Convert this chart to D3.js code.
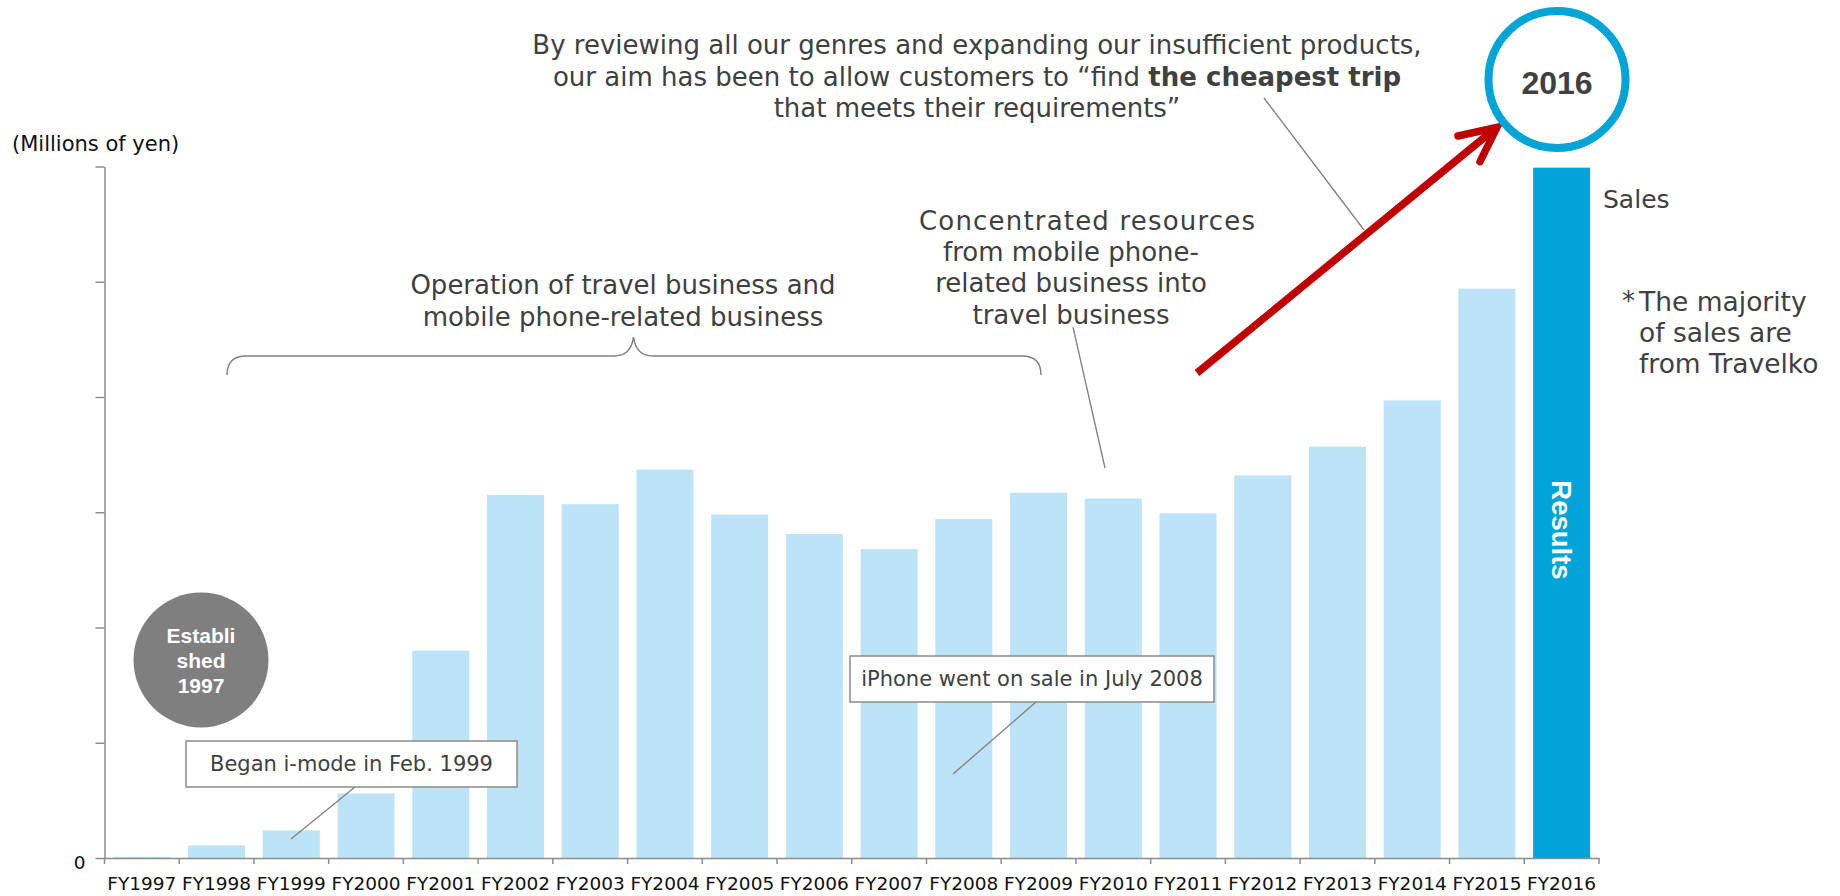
<!DOCTYPE html>
<html>
<head>
<meta charset="utf-8">
<script src="https://cdn.jsdelivr.net/npm/d3@7"></script>
<style>
  html, body { margin: 0; padding: 0; background: #fff; }
  svg { display: block; }
  text { font-family: "DejaVu Sans", Verdana, sans-serif; }
  text.badge { font-family: "Liberation Sans", Arial, sans-serif; font-weight: bold; }
</style>
</head>
<body>
<svg id="chart" width="1840" height="896"></svg>
<script>
// Fiscal years on the category axis
const categories = ["FY1997", "FY1998", "FY1999", "FY2000", "FY2001", "FY2002", "FY2003",
  "FY2004", "FY2005", "FY2006", "FY2007", "FY2008", "FY2009", "FY2010", "FY2011",
  "FY2012", "FY2013", "FY2014", "FY2015", "FY2016"];

// Sales (millions of yen, unlabelled scale)
const sales = [10, 110, 240, 560, 1800, 3150, 3070, 3370, 2980, 2810, 2680, 2940,
  3170, 3120, 2990, 3320, 3570, 3970, 4940, 5990];

// Value ticks; only the zero is labelled
const yTicks = [0, 1000, 2000, 3000, 4000, 5000, 6000];
const yTickLabels = ["0", "", "", "", "", "", ""];

// Year shown as the current result
const resultYear = "FY2016";

// Annotation texts
const headlineLines = [
  [{ t: "By reviewing all our genres and expanding our insufficient products,", b: false }],
  [{ t: "our aim has been to allow customers to \u201cfind ", b: false }, { t: "the cheapest trip", b: true }],
  [{ t: "that meets their requirements\u201d", b: false }]
];
const operationLines = ["Operation of travel business and", "mobile phone-related business"];
const concentratedLines = ["Concentrated resources", "from mobile phone-", "related business into", "travel business"];
const noteLines = ["The majority", "of sales are", "from Travelko"];
const establishedLines = ["Establi", "shed", "1997"];

const svg = d3.select("#chart");
const W = 1840, H = 896;
svg.append("rect").attr("width", W).attr("height", H).attr("fill", "#fff");

const x = d3.scaleBand()
  .domain(categories)
  .range([104.5, 1599])
  .paddingInner(0.237)
  .paddingOuter(0.1185);

const y = d3.scaleLinear().domain([0, 6000]).range([858, 166.5]);

const axisColor = "#8c8c8c";
const textDark = "#404040";

// Bars
svg.append("g").selectAll("rect")
  .data(categories)
  .join("rect")
  .attr("x", d => x(d))
  .attr("width", x.bandwidth())
  .attr("y", (d, i) => y(sales[i]))
  .attr("height", (d, i) => y(0) - y(sales[i]))
  .attr("fill", d => d === resultYear ? "#00a4d6" : "#bde3f7");

// Y axis
const yAxis = svg.append("g")
  .attr("transform", `translate(${x.range()[0]},0)`)
  .call(d3.axisLeft(y).tickValues(yTicks).tickSize(9).tickSizeOuter(0).tickPadding(10)
    .tickFormat((d, i) => yTickLabels[i]));
yAxis.selectAll("path, line").attr("stroke", axisColor).attr("stroke-width", 1.5);
yAxis.selectAll("text").attr("font-size", 18.5).attr("fill", "#111").attr("dy", "0.55em");

// X axis: labels at band centres, tick marks at band boundaries
const xAxis = svg.append("g")
  .attr("transform", `translate(0,${y(0)})`)
  .call(d3.axisBottom(x).tickSize(0).tickSizeOuter(0).tickPadding(19));
xAxis.select(".domain").attr("stroke", axisColor).attr("stroke-width", 1.5);
xAxis.selectAll("text").attr("font-size", 18.5).attr("fill", "#111");
const boundaries = categories.map(c => x(c) - x.step() * x.paddingInner() / 2).concat([x.range()[1]]);
xAxis.append("g").selectAll("line")
  .data(boundaries)
  .join("line")
  .attr("x1", d => d).attr("x2", d => d)
  .attr("y1", 0).attr("y2", 6)
  .attr("stroke", axisColor).attr("stroke-width", 1.5);

// Unit label
svg.append("text")
  .attr("x", 12).attr("y", 151)
  .attr("font-size", 21).attr("fill", "#111")
  .text("(Millions of yen)");

// "Results" label inside the latest bar
const rx = x(resultYear) + x.bandwidth() / 2;
svg.append("text")
  .attr("class", "badge")
  .attr("transform", `translate(${rx},530) rotate(90)`)
  .attr("text-anchor", "middle").attr("dy", "0.36em")
  .attr("font-size", 27.5).attr("fill", "#fff")
  .text("Results");

// Series name and note
svg.append("text")
  .attr("x", 1603).attr("y", 199).attr("dy", "0.35em")
  .attr("font-size", 25).attr("fill", textDark)
  .text("Sales");
svg.append("text")
  .attr("x", 1622).attr("y", 301).attr("dy", "0.35em")
  .attr("font-size", 26).attr("fill", textDark)
  .text("*");
svg.append("g").selectAll("text")
  .data(noteLines)
  .join("text")
  .attr("x", 1639).attr("y", (d, i) => 301.5 + i * 31.3).attr("dy", "0.35em")
  .attr("font-size", 26.5).attr("fill", textDark)
  .text(d => d);

// Established badge
svg.append("circle").attr("cx", 201).attr("cy", 660).attr("r", 67.5).attr("fill", "#7f7f7f");
svg.append("g").selectAll("text")
  .data(establishedLines)
  .join("text")
  .attr("class", "badge")
  .attr("x", 201).attr("y", (d, i) => 635 + i * 25).attr("dy", "0.36em")
  .attr("text-anchor", "middle")
  .attr("font-size", 21).attr("fill", "#fff")
  .text(d => d);

// Leader lines
const leaders = [
  [355, 787, 291, 839],
  [1036, 702, 953, 774],
  [1073, 327, 1105, 468],
  [1264, 98, 1364, 230]
];
svg.append("g").selectAll("line")
  .data(leaders)
  .join("line")
  .attr("x1", d => d[0]).attr("y1", d => d[1])
  .attr("x2", d => d[2]).attr("y2", d => d[3])
  .attr("stroke", "#808080").attr("stroke-width", 1.3);

// Callout boxes
function callout(x0, y0, w, h, label) {
  svg.append("rect").attr("x", x0).attr("y", y0).attr("width", w).attr("height", h)
    .attr("fill", "#fff").attr("stroke", "#8a8a8a").attr("stroke-width", 1.5);
  svg.append("text").attr("x", x0 + w / 2).attr("y", y0 + h / 2).attr("dy", "0.35em")
    .attr("text-anchor", "middle").attr("font-size", 21).attr("fill", textDark)
    .text(label);
}
callout(186, 741, 331, 46, "Began i-mode in Feb. 1999");
callout(850, 656, 364, 46, "iPhone went on sale in July 2008");

// Brace over the early period
svg.append("path")
  .attr("d", "M227,375 Q227,356 246,356 L614,356 Q631,356 633.5,337 Q636,356 653,356 L1022,356 Q1041,356 1041,375")
  .attr("fill", "none").attr("stroke", "#808080").attr("stroke-width", 1.5);

svg.append("g").selectAll("text")
  .data(operationLines)
  .join("text")
  .attr("x", 623).attr("y", (d, i) => 285 + i * 31.7).attr("dy", "0.35em")
  .attr("text-anchor", "middle").attr("font-size", 26).attr("fill", textDark)
  .text(d => d);

svg.append("g").selectAll("text")
  .data(concentratedLines)
  .join("text")
  .attr("x", (d, i) => i === 0 ? 1087 : 1071)
  .attr("y", (d, i) => 220.5 + i * 31.3).attr("dy", "0.35em")
  .attr("text-anchor", "middle").attr("font-size", 26).attr("fill", textDark)
  .attr("textLength", (d, i) => i === 0 ? 336 : null)
  .attr("lengthAdjust", "spacing")
  .text(d => d);

// Headline annotation
const head = svg.append("g");
headlineLines.forEach((parts, i) => {
  const t = head.append("text")
    .attr("x", 977).attr("y", 45 + i * 31.5).attr("dy", "0.35em")
    .attr("text-anchor", "middle").attr("font-size", 26).attr("fill", textDark);
  parts.forEach(p => t.append("tspan").attr("font-weight", p.b ? "bold" : "normal").text(p.t));
});

// Growth arrow
svg.append("line")
  .attr("x1", 1197).attr("y1", 373).attr("x2", 1494).attr("y2", 129.5)
  .attr("stroke", "#c00000").attr("stroke-width", 7.5);
svg.append("path")
  .attr("d", "M1458,136 L1497,127.3 L1480,161.7")
  .attr("fill", "none").attr("stroke", "#c00000").attr("stroke-width", 7.5)
  .attr("stroke-linecap", "round").attr("stroke-linejoin", "miter");

// Year badge
svg.append("circle").attr("cx", 1557).attr("cy", 79.5).attr("r", 68.5)
  .attr("fill", "#fff").attr("stroke", "#00a4d6").attr("stroke-width", 8);
svg.append("text").attr("class", "badge")
  .attr("x", 1557).attr("y", 82).attr("dy", "0.36em")
  .attr("text-anchor", "middle").attr("font-size", 32).attr("fill", textDark)
  .text("2016");
</script>
</body>
</html>
